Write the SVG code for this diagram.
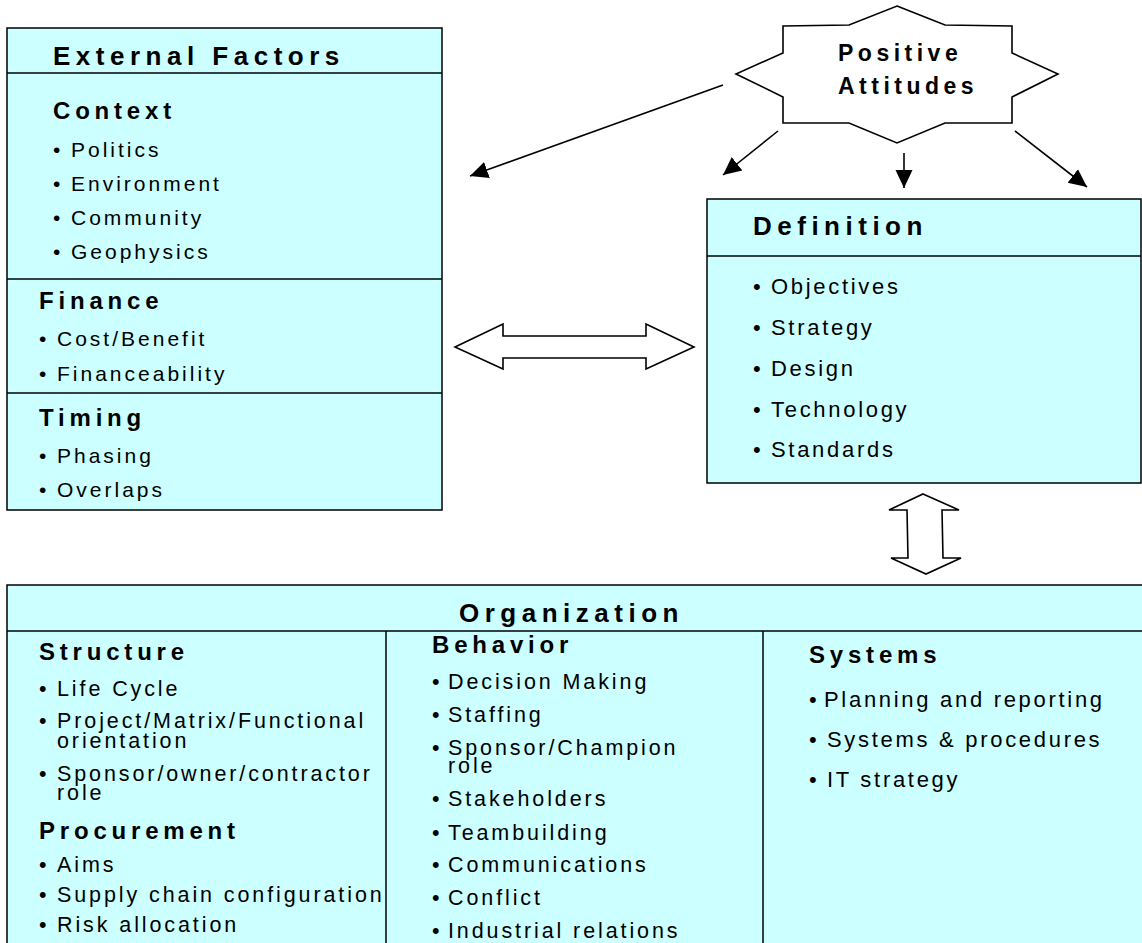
<svg xmlns="http://www.w3.org/2000/svg" width="1142" height="943" viewBox="0 0 1142 943">
  <style>
    .box { fill: #CCFFFF; stroke: #000; stroke-width: 1.5; }
    .rule { stroke: #000; stroke-width: 1.5; fill: none; }
    text { font-family: "Liberation Sans", Arial, sans-serif; fill: #000; }
    .title { font-weight: bold; font-size: 26px; letter-spacing: 5.5px; }
    .head { font-weight: bold; font-size: 24px; letter-spacing: 4.8px; }
    .star { font-weight: bold; font-size: 23px; letter-spacing: 4.5px; }
    .item { font-size: 21px; letter-spacing: 3px; }
    .ditem { font-size: 22px; letter-spacing: 2.7px; }
    .oitem { font-size: 21.5px; letter-spacing: 2.9px; }
    .sitem { font-size: 22px; letter-spacing: 2.7px; }
    .conn { stroke: #000; stroke-width: 1.6; fill: none; marker-end: url(#tip); }
    .hollow { fill: #fff; stroke: #000; stroke-width: 1.6; stroke-linejoin: miter; }
  </style>
  <defs>
    <marker id="tip" markerUnits="userSpaceOnUse" markerWidth="20" markerHeight="20" viewBox="0 0 20 20" refX="18" refY="10" orient="auto">
      <path d="M0,1.5 L18,10 L0,18.5 Z" fill="#000"/>
    </marker>
  </defs>

  <rect width="1142" height="943" fill="#fff"/>

  <!-- External Factors -->
  <g id="external-factors">
    <rect class="box" x="7" y="28" width="435" height="482"/>
    <line class="rule" x1="7" y1="73" x2="442" y2="73"/>
    <line class="rule" x1="7" y1="279" x2="442" y2="279"/>
    <line class="rule" x1="7" y1="393" x2="442" y2="393"/>
    <text class="title" x="53" y="65">External Factors</text>
    <text class="head" x="53" y="119">Context</text>
    <text class="item" y="157"><tspan x="53">•</tspan><tspan x="71">Politics</tspan></text>
    <text class="item" y="191"><tspan x="53">•</tspan><tspan x="71">Environment</tspan></text>
    <text class="item" y="225"><tspan x="53">•</tspan><tspan x="71">Community</tspan></text>
    <text class="item" y="259"><tspan x="53">•</tspan><tspan x="71">Geophysics</tspan></text>
    <text class="head" x="39" y="309">Finance</text>
    <text class="item" y="346"><tspan x="39">•</tspan><tspan x="57">Cost/Benefit</tspan></text>
    <text class="item" y="381"><tspan x="39">•</tspan><tspan x="57">Financeability</tspan></text>
    <text class="head" x="39" y="426">Timing</text>
    <text class="item" y="463"><tspan x="39">•</tspan><tspan x="57">Phasing</tspan></text>
    <text class="item" y="497"><tspan x="39">•</tspan><tspan x="57">Overlaps</tspan></text>
  </g>

  <!-- Positive Attitudes (star) -->
  <g id="positive-attitudes">
    <polygon class="hollow" points="897,6 945,25 1012,26 1012,53 1058,74 1012,97 1012,123 945,123 897,143 849,123 783,123 783,97 736,74 783,53 783,26 849,25"/>
    <text class="star" x="838" y="61">Positive</text>
    <text class="star" x="838" y="94">Attitudes</text>
  </g>

  <!-- Definition -->
  <g id="definition">
    <rect class="box" x="707" y="199" width="434" height="284"/>
    <line class="rule" x1="707" y1="256" x2="1141" y2="256"/>
    <text class="title" x="753" y="235">Definition</text>
    <text class="ditem" y="294"><tspan x="753">•</tspan><tspan x="771">Objectives</tspan></text>
    <text class="ditem" y="335"><tspan x="753">•</tspan><tspan x="771">Strategy</tspan></text>
    <text class="ditem" y="376"><tspan x="753">•</tspan><tspan x="771">Design</tspan></text>
    <text class="ditem" y="417"><tspan x="753">•</tspan><tspan x="771">Technology</tspan></text>
    <text class="ditem" y="457"><tspan x="753">•</tspan><tspan x="771">Standards</tspan></text>
  </g>

  <!-- Organization -->
  <g id="organization">
    <rect class="box" x="7" y="585" width="1140" height="370"/>
    <line class="rule" x1="7" y1="631" x2="1142" y2="631"/>
    <line class="rule" x1="386" y1="631" x2="386" y2="943"/>
    <line class="rule" x1="763" y1="631" x2="763" y2="943"/>
    <text class="title" x="459" y="622">Organization</text>

    <!-- Structure / Procurement column -->
    <text class="head" x="39" y="660">Structure</text>
    <text class="oitem" y="696"><tspan x="39">•</tspan><tspan x="57">Life Cycle</tspan></text>
    <text class="oitem" y="728"><tspan x="39">•</tspan><tspan x="57">Project/Matrix/Functional</tspan></text>
    <text class="oitem" x="57" y="748">orientation</text>
    <text class="oitem" y="781"><tspan x="39">•</tspan><tspan x="57">Sponsor/owner/contractor</tspan></text>
    <text class="oitem" x="57" y="800">role</text>
    <text class="head" x="39" y="839">Procurement</text>
    <text class="oitem" y="872"><tspan x="39">•</tspan><tspan x="57">Aims</tspan></text>
    <text class="oitem" y="902"><tspan x="39">•</tspan><tspan x="57">Supply chain configuration</tspan></text>
    <text class="oitem" y="932"><tspan x="39">•</tspan><tspan x="57">Risk allocation</tspan></text>

    <!-- Behavior column -->
    <text class="head" x="432" y="653">Behavior</text>
    <text class="oitem" y="689"><tspan x="432">•</tspan><tspan x="448">Decision Making</tspan></text>
    <text class="oitem" y="722"><tspan x="432">•</tspan><tspan x="448">Staffing</tspan></text>
    <text class="oitem" y="755"><tspan x="432">•</tspan><tspan x="448">Sponsor/Champion</tspan></text>
    <text class="oitem" x="448" y="773">role</text>
    <text class="oitem" y="806"><tspan x="432">•</tspan><tspan x="448">Stakeholders</tspan></text>
    <text class="oitem" y="840"><tspan x="432">•</tspan><tspan x="448">Teambuilding</tspan></text>
    <text class="oitem" y="872"><tspan x="432">•</tspan><tspan x="448">Communications</tspan></text>
    <text class="oitem" y="905"><tspan x="432">•</tspan><tspan x="448">Conflict</tspan></text>
    <text class="oitem" y="938"><tspan x="432">•</tspan><tspan x="448">Industrial relations</tspan></text>

    <!-- Systems column -->
    <text class="head" x="809" y="663">Systems</text>
    <text class="sitem" y="707"><tspan x="809">•</tspan><tspan x="824">Planning and reporting</tspan></text>
    <text class="sitem" y="747"><tspan x="809">•</tspan><tspan x="827">Systems &amp; procedures</tspan></text>
    <text class="sitem" y="787"><tspan x="809">•</tspan><tspan x="827">IT strategy</tspan></text>
  </g>

  <!-- Connectors -->
  <g id="connectors">
    <line class="conn" x1="723" y1="85" x2="470" y2="176"/>
    <line class="conn" x1="778" y1="131" x2="723" y2="175"/>
    <line class="conn" x1="904" y1="153" x2="904" y2="188"/>
    <line class="conn" x1="1015" y1="131" x2="1087" y2="187"/>
    <polygon class="hollow" points="455,347 503,324 503,336 646,336 646,324 694,347 646,369 646,358 503,358 503,369"/>
    <polygon class="hollow" points="923,494 959,510 942,510 943,558 961,558 926,574 891,558 908,558 907,510 889,510"/>
  </g>
</svg>
